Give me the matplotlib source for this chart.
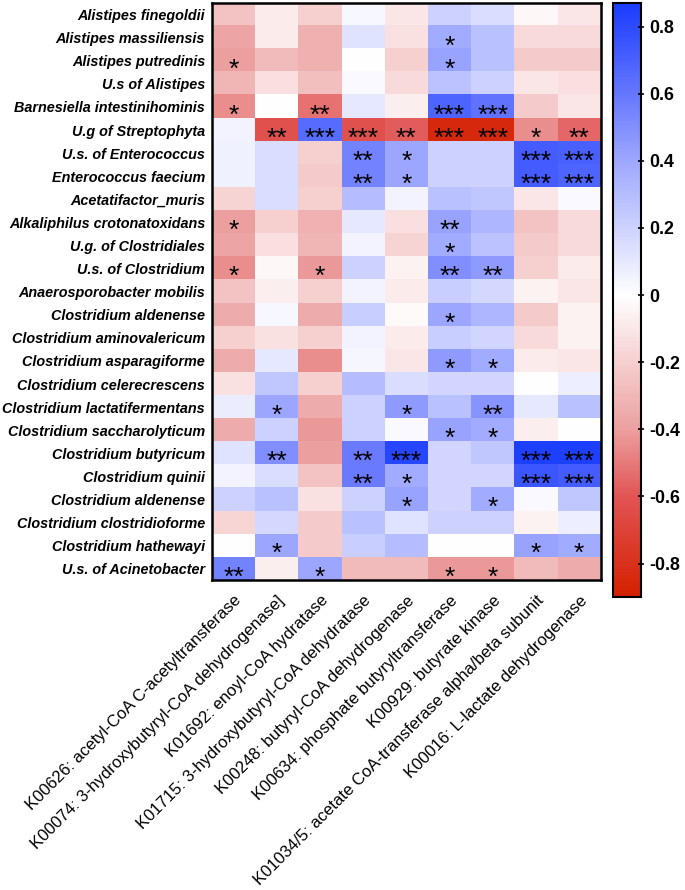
import numpy as np
import matplotlib
matplotlib.use('Agg')
import matplotlib.pyplot as plt
from matplotlib.colors import LinearSegmentedColormap, Normalize

matplotlib.rcParams["font.family"] = ["Liberation Sans", "DejaVu Sans"]

# data
species = ['Alistipes finegoldii', 'Alistipes massiliensis', 'Alistipes putredinis',
           'U.s of Alistipes', 'Barnesiella intestinihominis', 'U.g of Streptophyta',
           'U.s. of Enterococcus', 'Enterococcus faecium', 'Acetatifactor_muris',
           'Alkaliphilus crotonatoxidans', 'U.g. of Clostridiales', 'U.s. of Clostridium',
           'Anaerosporobacter mobilis', 'Clostridium aldenense', 'Clostridium aminovalericum',
           'Clostridium asparagiforme', 'Clostridium celerecrescens',
           'Clostridium lactatifermentans', 'Clostridium saccharolyticum',
           'Clostridium butyricum', 'Clostridium quinii', 'Clostridium aldenense',
           'Clostridium clostridioforme', 'Clostridium hathewayi', 'U.s. of Acinetobacter']

genes = ['K00626: acetyl-CoA C-acetyltransferase',
         'K00074: 3-hydroxybutyryl-CoA dehydrogenase]',
         'K01692: enoyl-CoA hydratase',
         'K01715: 3-hydroxybutyryl-CoA dehydratase',
         'K00248: butyryl-CoA dehydrogenase',
         'K00634: phosphate butyryltransferase',
         'K00929: butyrate kinase',
         'K01034/5: acetate CoA-transferase alpha/beta subunit',
         'K00016: L-lactate dehydrogenase']

corr = np.array([
    [-0.25, -0.08, -0.20,  0.03, -0.10,  0.20,  0.15, -0.03, -0.10],
    [-0.38, -0.08, -0.33,  0.12, -0.12,  0.38,  0.28, -0.15, -0.15],
    [-0.40, -0.28, -0.33,  0.00, -0.20,  0.42,  0.28, -0.22, -0.22],
    [-0.30, -0.13, -0.27,  0.02, -0.15,  0.27,  0.20, -0.10, -0.13],
    [-0.45,  0.00, -0.52,  0.10, -0.07,  0.68,  0.62, -0.22, -0.10],
    [ 0.05, -0.62,  0.65, -0.62, -0.58, -0.85, -0.85, -0.45, -0.55],
    [ 0.06,  0.15, -0.20,  0.55,  0.40,  0.20,  0.20,  0.72,  0.70],
    [ 0.06,  0.15, -0.22,  0.55,  0.40,  0.20,  0.20,  0.72,  0.68],
    [-0.18,  0.15, -0.20,  0.30,  0.05,  0.28,  0.25, -0.10,  0.02],
    [-0.40, -0.20, -0.32,  0.10, -0.13,  0.42,  0.33, -0.25, -0.15],
    [-0.38, -0.13, -0.30,  0.05, -0.18,  0.38,  0.27, -0.22, -0.15],
    [-0.45, -0.03, -0.42,  0.20, -0.05,  0.50,  0.45, -0.20, -0.08],
    [-0.25, -0.07, -0.20,  0.05, -0.08,  0.22,  0.17, -0.05, -0.10],
    [-0.35,  0.03, -0.35,  0.22, -0.02,  0.40,  0.33, -0.22, -0.05],
    [-0.20, -0.12, -0.20,  0.05, -0.08,  0.22,  0.18, -0.15, -0.05],
    [-0.35,  0.10, -0.45,  0.04, -0.10,  0.45,  0.38, -0.08, -0.10],
    [-0.12,  0.25, -0.20,  0.30,  0.15,  0.18,  0.18,  0.00,  0.07],
    [ 0.08,  0.40, -0.35,  0.20,  0.45,  0.28,  0.48,  0.10,  0.28],
    [-0.35,  0.20, -0.42,  0.20,  0.02,  0.42,  0.38, -0.07,  0.00],
    [ 0.12,  0.50, -0.40,  0.58,  0.82,  0.18,  0.25,  0.85,  0.85],
    [ 0.05,  0.15, -0.25,  0.58,  0.38,  0.18,  0.18,  0.75,  0.72],
    [ 0.20,  0.28, -0.12,  0.20,  0.42,  0.18,  0.38,  0.02,  0.25],
    [-0.17,  0.17, -0.22,  0.28,  0.12,  0.20,  0.20, -0.05,  0.07],
    [ 0.00,  0.40, -0.22,  0.22,  0.30,  0.00,  0.00,  0.42,  0.38],
    [ 0.55, -0.07,  0.40, -0.28, -0.28, -0.42, -0.42, -0.28, -0.35],
])

stars = [
    ['', '', '', '', '', '', '', '', ''],
    ['', '', '', '', '', '*', '', '', ''],
    ['*', '', '', '', '', '*', '', '', ''],
    ['', '', '', '', '', '', '', '', ''],
    ['*', '', '**', '', '', '***', '***', '', ''],
    ['', '**', '***', '***', '**', '***', '***', '*', '**'],
    ['', '', '', '**', '*', '', '', '***', '***'],
    ['', '', '', '**', '*', '', '', '***', '***'],
    ['', '', '', '', '', '', '', '', ''],
    ['*', '', '', '', '', '**', '', '', ''],
    ['', '', '', '', '', '*', '', '', ''],
    ['*', '', '*', '', '', '**', '**', '', ''],
    ['', '', '', '', '', '', '', '', ''],
    ['', '', '', '', '', '*', '', '', ''],
    ['', '', '', '', '', '', '', '', ''],
    ['', '', '', '', '', '*', '*', '', ''],
    ['', '', '', '', '', '', '', '', ''],
    ['', '*', '', '', '*', '', '**', '', ''],
    ['', '', '', '', '', '*', '*', '', ''],
    ['', '**', '', '**', '***', '', '', '***', '***'],
    ['', '', '', '**', '*', '', '', '***', '***'],
    ['', '', '', '', '*', '', '*', '', ''],
    ['', '', '', '', '', '', '', '', ''],
    ['', '*', '', '', '', '', '', '*', '*'],
    ['**', '', '*', '', '', '*', '*', '', ''],
]

cbar_ticks = [0.8, 0.6, 0.4, 0.2, 0, -0.2, -0.4, -0.6, -0.8]

vmin, vmax = -0.9, 0.87

# colormap red -> white -> blue
def pos(v):
    return (v - vmin) / (vmax - vmin)

cmap = LinearSegmentedColormap.from_list('rwb', [
    (pos(-0.9), '#d42000'),
    (pos(-0.6), '#e25555'),
    (pos(-0.4), '#eca0a0'),
    (pos(-0.2), '#f6cfcf'),
    (pos(0.0), '#ffffff'),
    (pos(0.2), '#cdd2ff'),
    (pos(0.4), '#9ea8ff'),
    (pos(0.6), '#6677ff'),
    (pos(0.87), '#1a3cff'),
])

fig = plt.figure(figsize=(6.85, 8.9), dpi=100)
ax = fig.add_axes([0.3095, 0.348, 0.5675, 0.6486])
im = ax.imshow(corr, cmap=cmap, norm=Normalize(vmin, vmax), aspect='auto',
               interpolation='nearest')

# significance stars (asterisk sits high in the glyph box, so anchor on baseline)
for i in range(corr.shape[0]):
    for j in range(corr.shape[1]):
        if stars[i][j]:
            ax.text(j, i + 0.68, stars[i][j], ha='center', va='baseline',
                    fontsize=19, color='black')

ax.set_yticks(range(len(species)))
ax.set_yticklabels(species, fontsize=10.4, fontweight='bold', fontstyle='italic')
ax.set_xticks(range(len(genes)))
ax.set_xticklabels(genes, rotation=45, ha='right', rotation_mode='anchor', fontsize=12)
ax.tick_params(axis='y', length=0, pad=5)
ax.tick_params(axis='x', length=0, pad=9)
for s in ax.spines.values():
    s.set_linewidth(1.8)

cax = fig.add_axes([0.895, 0.329, 0.041, 0.6676])
cb = fig.colorbar(im, cax=cax, ticks=cbar_ticks)
cb.ax.set_yticklabels(['0' if t == 0 else f'{t:g}' for t in cbar_ticks],
                      fontsize=12.8, fontweight='bold')
cb.ax.tick_params(direction='inout', length=5, width=1.2)
cb.outline.set_linewidth(1.5)

fig.savefig('out.png', dpi=100)
